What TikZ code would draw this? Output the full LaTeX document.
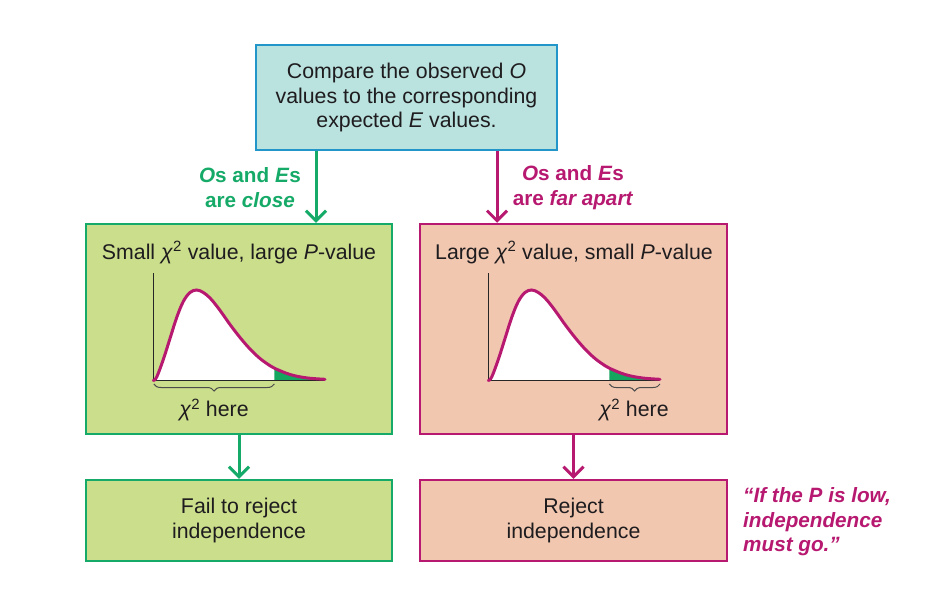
\documentclass[tikz,border=0pt]{standalone}
\usepackage{fontspec}
\setmainfont{Liberation Sans}
\usetikzlibrary{arrows.meta,decorations.pathreplacing}
\definecolor{gline}{RGB}{22,170,104}
\definecolor{mline}{RGB}{183,25,112}
\definecolor{bline}{RGB}{34,150,200}
\definecolor{tfill}{RGB}{186,226,222}
\definecolor{gfill}{RGB}{203,222,140}
\definecolor{pfill}{RGB}{241,199,176}
\definecolor{txt}{RGB}{30,28,30}
\definecolor{shadegreen}{RGB}{20,165,95}
\begin{document}
\begin{tikzpicture}[x=1pt,y=-1pt,
  font=\fontsize{21.3}{24.5}\selectfont,
  box/.style={draw, line width=2.5pt, inner sep=0pt, align=center, text=txt},
  topbox/.style={box, draw=bline, fill=tfill, minimum width=301pt, minimum height=105pt},
  gbox/.style={box, draw=gline, fill=gfill, minimum width=306pt},
  pbox/.style={box, draw=mline, fill=pfill, minimum width=307pt},
  bigbox/.style={minimum height=210pt},
  smallbox/.style={minimum height=81pt},
  garrow/.style={draw=gline, line width=3pt, -{Straight Barb[length=10pt,width=20pt]}},
  parrow/.style={draw=mline, line width=3pt, -{Straight Barb[length=10pt,width=20pt]}},
  glabel/.style={align=center, text=gline, font=\fontsize{20.7}{24.5}\selectfont\bfseries},
  plabel/.style={align=center, text=mline, font=\fontsize{20.7}{24.5}\selectfont\bfseries},
  ttl/.style={text=txt, inner sep=0pt},
  curve/.style={draw=mline, line width=3pt, line cap=round},
  axis/.style={draw=black!85, line width=1pt},
  bracestyle/.style={draw=black!70, line width=1pt, decorate, decoration={brace, amplitude=7pt}}
]
\useasboundingbox (0,0) rectangle (946,608);
\fill[white] (0,0) rectangle (946,608);

% boxes
\node[topbox] (top) at (406.5,97.5) {Compare the observed \textit{O}\\values to the corresponding\\expected \textit{E} values.};
\node[gbox,bigbox] (gb) at (239,329) {};
\node[pbox,bigbox] (pb) at (573.5,329) {};
\node[gbox,smallbox] (gr) at (239,520.5) {Fail to reject\\independence};
\node[pbox,smallbox] (pr) at (573.5,520.5) {Reject\\independence};

% connectors
\coordinate (ga) at (316,0);
\coordinate (pa) at (497,0);
\draw[garrow] (top.south -| ga) -- (gb.north -| ga);
\draw[parrow] (top.south -| pa) -- (pb.north -| pa);
\draw[garrow] (gb.south) -- (gr.north);
\draw[parrow] (pb.south) -- (pr.north);

% labels
\node[glabel] (gl) at (250,187.5) {\textit{O}s and \textit{E}s\\are \textit{close}};
\node[plabel] (pl) at (573,187.5) {\textit{O}s and \textit{E}s\\are \textit{far apart}};

\node[ttl] (gt) at (239,252.5) {Small \textit{χ}\textsuperscript{2} value, large \textit{P}-value};
\node[ttl] (pt) at (574,252.5) {Large \textit{χ}\textsuperscript{2} value, small \textit{P}-value};

% curves
\foreach \dx in {153.3,488.3}{
\begin{scope}[shift={(\dx,380.5)}]
  \fill[white] (0,0) -- plot[smooth,tension=0.6] coordinates {(0,0) (3.4,-3.5) (10,-21) (16.7,-42) (23.4,-63) (30,-79) (36.7,-88) (43.4,-90.5) (50,-88) (56.7,-82.5) (63.4,-74.5) (70,-65.5) (76.7,-56) (86.7,-43) (96.7,-31.5) (106.7,-22) (116.7,-14.8) (121.7,-12) (136.7,-6) (153.4,-2.6) (171.7,-1.2)} -- (171.7,0) -- cycle;
  \begin{scope}
    \clip (121,-50) rectangle (180,5);
    \fill[shadegreen] (0,0) -- plot[smooth,tension=0.6] coordinates {(0,0) (3.4,-3.5) (10,-21) (16.7,-42) (23.4,-63) (30,-79) (36.7,-88) (43.4,-90.5) (50,-88) (56.7,-82.5) (63.4,-74.5) (70,-65.5) (76.7,-56) (86.7,-43) (96.7,-31.5) (106.7,-22) (116.7,-14.8) (121.7,-12) (136.7,-6) (153.4,-2.6) (171.7,-1.2)} -- (171.7,0) -- cycle;
  \end{scope}
  \draw[axis] (0,-107.5) -- (0,0) -- (171.7,0);
  \draw[curve] plot[smooth,tension=0.6] coordinates {(0,0) (3.4,-3.5) (10,-21) (16.7,-42) (23.4,-63) (30,-79) (36.7,-88) (43.4,-90.5) (50,-88) (56.7,-82.5) (63.4,-74.5) (70,-65.5) (76.7,-56) (86.7,-43) (96.7,-31.5) (106.7,-22) (116.7,-14.8) (121.7,-12) (136.7,-6) (153.4,-2.6) (171.7,-1.2)};
\end{scope}
}
\draw[bracestyle] (274.3,384) -- (153.8,384);
\draw[bracestyle] (660,384) -- (609.3,384);
\node[ttl] (gh) at (214,410) {\textit{χ}\textsuperscript{2} here};
\node[ttl] (ph) at (634,410) {\textit{χ}\textsuperscript{2} here};

% quote
\node[anchor=west, align=left, text=mline, inner sep=0pt, font=\fontsize{20.7}{24.5}\selectfont\bfseries\itshape] (q) at (743,522) {“If the P is low,\\independence\\must go.”};
\end{tikzpicture}
\end{document}
